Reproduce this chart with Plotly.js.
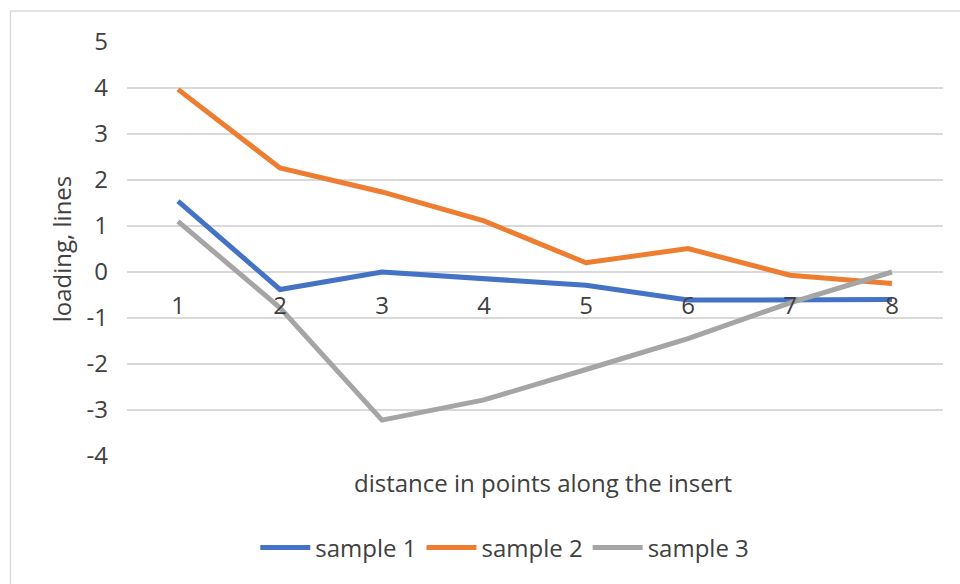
<!DOCTYPE html>
<html>
<head>
<meta charset="utf-8">
<script src="https://cdn.plot.ly/plotly-3.0.1.min.js"></script>
<style>html,body{margin:0;padding:0;background:#fff;}#chart{width:960px;height:584px;}</style>
</head>
<body>
<div id="chart"></div>
<script>
const categories = ["1", "2", "3", "4", "5", "6", "7", "8"];
const sample1 = [1.54, -0.38, 0.0, -0.14, -0.29, -0.61, -0.6, -0.6];
const sample2 = [3.97, 2.26, 1.74, 1.11, 0.2, 0.51, -0.07, -0.25];
const sample3 = [1.1, -0.78, -3.22, -2.78, -2.12, -1.45, -0.67, 0.0];
const seriesNames = ["sample 1", "sample 2", "sample 3"];
const colors = ["#4472C4", "#ED7D31", "#A5A5A5"];
const yTicks = [-4, -3, -2, -1, 0, 1, 2, 3, 4, 5];

const FONT = "Open Sans, Noto Sans, sans-serif";
const FS = 24;
const series = [sample1, sample2, sample3];
const traces = series.map((ys, i) => ({
  type: "scatter",
  mode: "lines",
  x: categories,
  y: ys,
  name: seriesNames[i],
  line: {color: colors[i], width: 5},
  hoverinfo: "skip"
}));

const layout = {
  width: 960,
  height: 584,
  margin: {l: 127, r: 17, t: 42, b: 128},
  paper_bgcolor: "#fff",
  plot_bgcolor: "#fff",
  font: {family: FONT, color: "#404040", size: FS},
  showlegend: true,
  legend: {
    orientation: "h",
    x: 0.463, xanchor: "center",
    y: -0.222, yanchor: "middle",
    font: {family: FONT, size: FS, color: "#404040"},
    itemwidth: 50,
    tracegroupgap: 0
  },
  xaxis: {
    type: "category",
    range: [-0.5, 7.5],
    anchor: "free",
    position: 4/9,
    showgrid: false,
    zeroline: false,
    showline: false,
    ticks: "",
    ticklabelstandoff: 17,
    tickfont: {family: FONT, size: FS, color: "#404040"},
    fixedrange: true
  },
  yaxis: {
    range: [-4, 5],
    tickvals: yTicks,
    ticktext: yTicks.map(String),
    showgrid: true,
    gridcolor: "#D9D9D9",
    gridwidth: 1.5,
    zeroline: false,
    showline: false,
    ticks: "",
    ticklabelstandoff: 18,
    tickfont: {family: FONT, size: FS, color: "#404040"},
    title: {text: "loading, lines", font: {family: FONT, size: FS, color: "#404040"}, standoff: 8},
    fixedrange: true
  },
  annotations: [{
    xref: "paper", yref: "paper",
    x: 0.51, y: -0.065,
    xanchor: "center", yanchor: "middle",
    text: "distance in points along the insert",
    showarrow: false,
    font: {family: FONT, size: FS, color: "#404040"}
  }],
  shapes: [
    {type: "line", xref: "paper", yref: "paper", x0: -0.1428, x1: -0.1428, y0: 1.0749, y1: -0.31, line: {color: "#D9D9D9", width: 1.5}},
    {type: "line", xref: "paper", yref: "paper", x0: -0.1428, x1: 1.03, y0: 1.0749, y1: 1.0749, line: {color: "#D9D9D9", width: 1.5}}
  ]
};

Plotly.newPlot("chart", traces, layout, {displayModeBar: false, staticPlot: true});
</script>
</body>
</html>
